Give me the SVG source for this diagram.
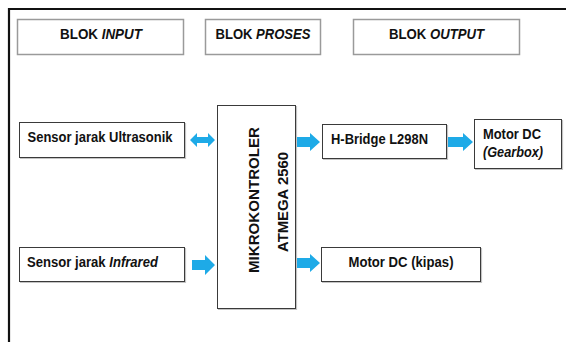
<svg xmlns="http://www.w3.org/2000/svg" width="566" height="342" viewBox="0 0 566 342">
<style>
text{font-family:"Liberation Sans",Arial,sans-serif;font-weight:bold;fill:#111;font-size:15px;}
.it{font-style:italic;}
.sm{font-size:13.1px;}
.v{font-size:14px;}
.hdr{fill:#fff;stroke:#9a9a9a;stroke-width:1.5;}
.box{fill:#fff;stroke:#3a3a3a;stroke-width:1;}
.shd{fill:none;stroke:#c4c4c4;stroke-width:1.2;}
.arr{fill:#1eaae7;stroke:none;}
</style>
<rect x="0" y="0" width="566" height="342" fill="#fff"/>
<path d="M9 342 V9 H566" fill="none" stroke="#111" stroke-width="2.2"/>

<g id="hdr-input"><rect class="hdr" x="17.5" y="19.5" width="166" height="35"/><text x="60" y="39" textLength="38" lengthAdjust="spacingAndGlyphs">BLOK</text><text class="it" x="101.7" y="39" textLength="40.2" lengthAdjust="spacingAndGlyphs">INPUT</text></g>
<g id="hdr-proses"><rect class="hdr" x="205.5" y="19.5" width="115" height="35"/><text x="215.5" y="39" textLength="37" lengthAdjust="spacingAndGlyphs">BLOK</text><text class="it" x="256.1" y="39" textLength="54.4" lengthAdjust="spacingAndGlyphs">PROSES</text></g>
<g id="hdr-output"><rect class="hdr" x="353.5" y="19.5" width="166" height="35"/><text x="389" y="39" textLength="37.3" lengthAdjust="spacingAndGlyphs">BLOK</text><text class="it" x="430" y="39" textLength="54.1" lengthAdjust="spacingAndGlyphs">OUTPUT</text></g>

<g id="ultrasonik"><path class="shd" d="M20 158.5 H185.5 V123"/><rect class="box" x="19.5" y="122.5" width="165" height="35"/><text x="27.5" y="142" textLength="145" lengthAdjust="spacingAndGlyphs">Sensor jarak Ultrasonik</text></g>
<g id="infrared"><path class="shd" d="M20 282.5 H185.5 V248"/><rect class="box" x="19.5" y="247.5" width="165" height="34"/><text class="sm" transform="translate(27 267) scale(1 1.15)" x="0" y="0">Sensor jarak <tspan class="it">Infrared</tspan></text></g>
<g id="mikro"><path class="shd" d="M218 309.5 H296.5 V106"/><rect class="box" x="217.5" y="105.5" width="78" height="203"/>
<text class="v" transform="translate(259 200) rotate(-90)" text-anchor="middle" textLength="146" lengthAdjust="spacingAndGlyphs">MIKROKONTROLER</text>
<text class="v" transform="translate(288 202) rotate(-90)" text-anchor="middle" textLength="100" lengthAdjust="spacingAndGlyphs">ATMEGA 2560</text></g>
<g id="hbridge"><path class="shd" d="M323 159.5 H447.5 V125"/><rect class="box" x="322.5" y="124.5" width="124" height="34"/><text x="331" y="144" textLength="97" lengthAdjust="spacingAndGlyphs">H-Bridge L298N</text></g>
<g id="motor-gearbox"><path class="shd" d="M475 169.5 H562.5 V120"/><rect class="box" x="474.5" y="119.5" width="87" height="49"/><text x="483" y="139" textLength="58" lengthAdjust="spacingAndGlyphs">Motor DC</text><text class="it" x="483" y="157" textLength="60" lengthAdjust="spacingAndGlyphs">(Gearbox)</text></g>
<g id="motor-kipas"><path class="shd" d="M322 282.5 H481.5 V248"/><rect class="box" x="321.5" y="247.5" width="159" height="34"/><text x="401" y="267" text-anchor="middle" textLength="105" lengthAdjust="spacingAndGlyphs">Motor DC (kipas)</text></g>

<g id="connectors">
<path class="arr" d="M190 140 L197 133 V137 H208 V133 L215 140 L208 147 V143 H197 V147 Z"/>
<path class="arr" d="M192 260 H205 V255 L215 265 L205 275 V270 H192 Z"/>
<path class="arr" d="M297 137 H310 V133 L320 142 L310 151 V147 H297 Z"/>
<path class="arr" d="M448 137 H463 V133 L473 142 L463 151 V147 H448 Z"/>
<path class="arr" d="M297 258 H310 V254 L320 263 L310 272 V268 H297 Z"/>
</g>
</svg>
